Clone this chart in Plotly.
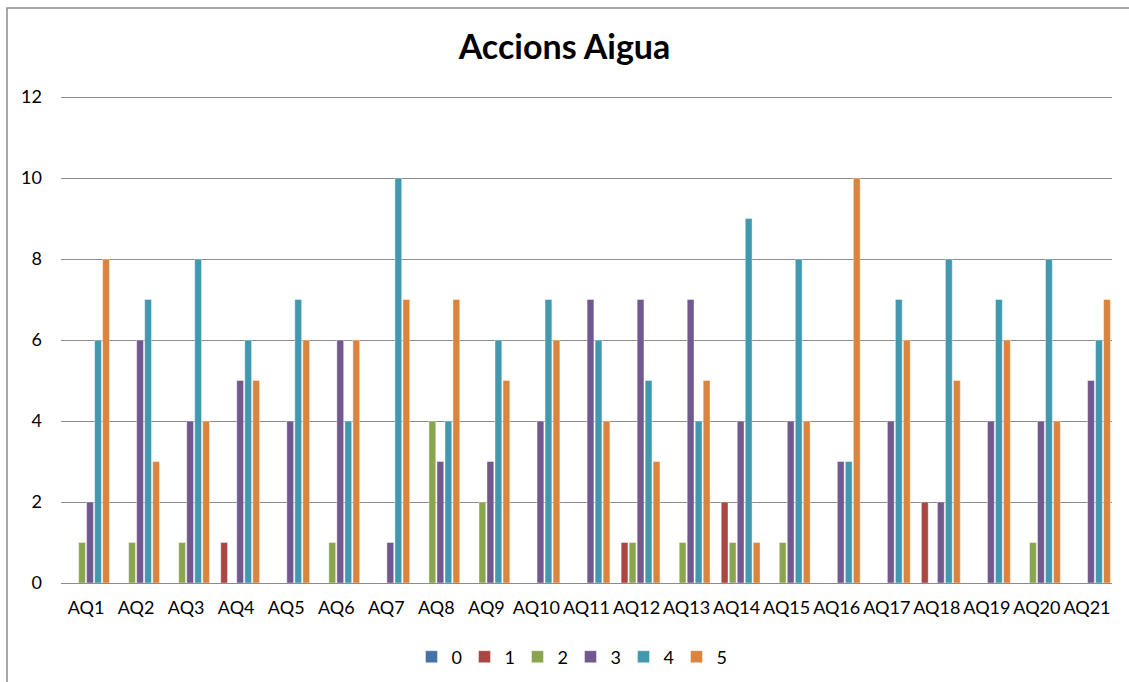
import plotly.graph_objects as go

categories = [f"AQ{i}" for i in range(1, 22)]
series_names = ["0", "1", "2", "3", "4", "5"]

s0 = [0] * 21
s1 = [0, 0, 0, 1, 0, 0, 0, 0, 0, 0, 0, 1, 0, 2, 0, 0, 0, 2, 0, 0, 0]
s2 = [1, 1, 1, 0, 0, 1, 0, 4, 2, 0, 0, 1, 1, 1, 1, 0, 0, 0, 0, 1, 0]
s3 = [2, 6, 4, 5, 4, 6, 1, 3, 3, 4, 7, 7, 7, 4, 4, 3, 4, 2, 4, 4, 5]
s4 = [6, 7, 8, 6, 7, 4, 10, 4, 6, 7, 6, 5, 4, 9, 8, 3, 7, 8, 7, 8, 6]
s5 = [8, 3, 4, 5, 6, 6, 7, 7, 5, 6, 4, 3, 5, 1, 4, 10, 6, 5, 6, 4, 7]

colors = ["#4572A7", "#AA4643", "#89A54E", "#71588F", "#4198AF", "#DB843D"]

fig = go.Figure()
for name, vals, col in zip(series_names, [s0, s1, s2, s3, s4, s5], colors):
    fig.add_trace(go.Bar(
        x=categories, y=vals, name=name,
        marker=dict(color=col, line=dict(color="rgba(255,255,255,0.7)", width=0.6)),
    ))

font_family = "Lato, 'Open Sans', sans-serif"

# plot area: x 61..1112, y(12)=97, y(0)=583 -> 40.5 px per unit
ymax = 12.1
top = 583 - ymax * 40.5
plot_h = 583 - top

fig.update_layout(
    width=1129, height=682,
    barmode="group", bargap=0.04, bargroupgap=0.15,
    paper_bgcolor="white", plot_bgcolor="white",
    margin=dict(l=61, r=17, t=top, b=99, autoexpand=False),
    font=dict(family=font_family, size=18, color="#000000"),
    title=dict(text="<b>Accions Aigua</b>", x=0.5, xanchor="center",
               y=1 - 47 / 682, yanchor="middle", yref="container",
               font=dict(family=font_family, size=34, color="#000000")),
    legend=dict(orientation="h", x=0.5 - 16 / 1051, xanchor="center",
                y=(583 - 657) / plot_h, yanchor="middle",
                font=dict(size=18), itemwidth=30,
                entrywidth=8, entrywidthmode="pixels"),
    showlegend=True,
)

fig.update_yaxes(range=[0, ymax], tickvals=[0, 2, 4, 6, 8, 10, 12],
                 showgrid=True, gridcolor="#8c8c8c", automargin=False,
                 gridwidth=1.2, zeroline=False, showline=False,
                 ticklabelstandoff=18, tickfont=dict(size=18))
fig.update_xaxes(showline=True, linecolor="#8c8c8c", linewidth=1.2, automargin=False,
                 showgrid=False, ticklabelstandoff=8, tickfont=dict(size=18))

# outer chart border
fig.add_shape(type="rect", xref="paper", yref="paper",
              x0=(7 - 61) / 1051, x1=1.2, y0=-0.4, y1=(583 - 8) / plot_h,
              line=dict(color="#8c8c8c", width=1.5), fillcolor="rgba(0,0,0,0)",
              layer="below")

fig.write_html("out.html", config={"displayModeBar": False},
               post_script="document.body.style.margin='0';document.body.style.overflow='hidden';")
